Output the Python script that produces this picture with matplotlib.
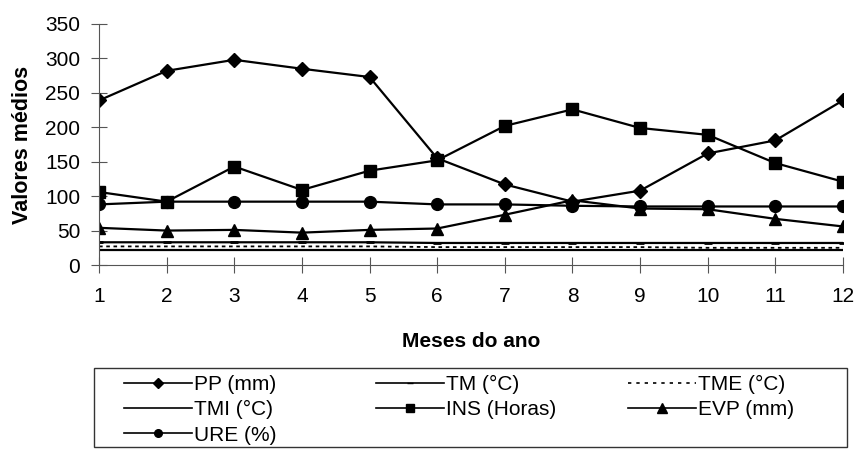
import matplotlib
matplotlib.use("Agg")
import matplotlib.pyplot as plt
from matplotlib.lines import Line2D
from matplotlib.patches import Rectangle

plt.rcParams['font.family'] = ['Liberation Sans', 'DejaVu Sans']

meses = [1, 2, 3, 4, 5, 6, 7, 8, 9, 10, 11, 12]
pp = [239, 282, 298, 285, 273, 155, 117, 92, 108, 162, 181, 239]
tm = [33, 33, 33, 33, 33, 32, 32, 32, 32, 32, 32, 32]
tme = [27, 27, 27, 27, 27, 26, 26, 26, 26, 25, 25, 25]
tmi = [22, 22, 22, 22, 22, 22, 22, 22, 22, 22, 22, 22]
ins = [106, 92, 143, 109, 137, 152, 202, 226, 199, 189, 148, 121]
evp = [54, 50, 51, 47, 51, 53, 73, 94, 82, 81, 67, 56]
ure = [88, 92, 92, 92, 92, 88, 88, 86, 85, 85, 85, 85]

fig = plt.figure(figsize=(8.56, 4.51), dpi=100)
ax = fig.add_axes([0.1157, 0.4124, 0.8691, 0.5344])

lw = 1.6
ax.plot(meses, pp, color='black', lw=lw, marker='D', ms=7, label='PP (mm)')
ax.plot(meses, tm, color='black', lw=lw, marker='_', ms=6, mew=2, label='TM (°C)')
ax.plot(meses, tme, color='black', lw=1.3, ls=(0, (2, 2)), label='TME (°C)')
ax.plot(meses, tmi, color='black', lw=lw, label='TMI (°C)')
ax.plot(meses, ins, color='black', lw=lw, marker='s', ms=8.5, label='INS (Horas)')
ax.plot(meses, evp, color='black', lw=lw, marker='^', ms=8.5, label='EVP (mm)')
ax.plot(meses, ure, color='black', lw=lw, marker='o', ms=8.5, label='URE (%)')

ax.set_xlim(1, 12)
ax.set_ylim(0, 350)
ax.set_xticks(meses)
ax.set_yticks(range(0, 351, 50))
for s in ['top', 'right']:
    ax.spines[s].set_visible(False)
for s in ['left', 'bottom']:
    ax.spines[s].set_color('#555555')
    ax.spines[s].set_linewidth(0.8)
ax.tick_params(axis='both', direction='inout', length=11, width=0.8,
               color='#555555', labelsize=15)
ax.tick_params(axis='x', pad=10)
ax.tick_params(axis='y', pad=8)

ax.set_xlabel('Meses do ano', fontsize=15, fontweight='bold', labelpad=19)
ax.set_ylabel('Valores médios', fontsize=15.5, fontweight='bold', labelpad=9)

# legend: three columns placed separately, one frame around them
def h(marker=None, ms=5, ls='-'):
    return Line2D([], [], color='black', lw=1.2, ls=ls, marker=marker, ms=ms)

cols = [
    ([h('D', 5), h(), h('o', 5.5)], ['PP (mm)', 'TMI (°C)', 'URE (%)'], 124),
    ([h('_', 5), h('s', 6)], ['TM (°C)', 'INS (Horas)'], 376),
    ([h(ls=(0, (2, 3))), h('^', 6.5)], ['TME (°C)', 'EVP (mm)'], 628),
]
for handles, labels, x0 in cols:
    fig.legend(handles, labels, loc='upper left',
               bbox_to_anchor=(x0 / 856, 1 - 375 / 451),
               frameon=False, fontsize=15, handlelength=3.25,
               handletextpad=0.12, borderpad=0, borderaxespad=0,
               labelspacing=0.3)

fig.add_artist(Rectangle((94 / 856, 1 - 447 / 451), 753 / 856, 79 / 451,
                         transform=fig.transFigure, fill=False,
                         edgecolor='#333333', lw=1))

fig.savefig('out.png', dpi=100)
